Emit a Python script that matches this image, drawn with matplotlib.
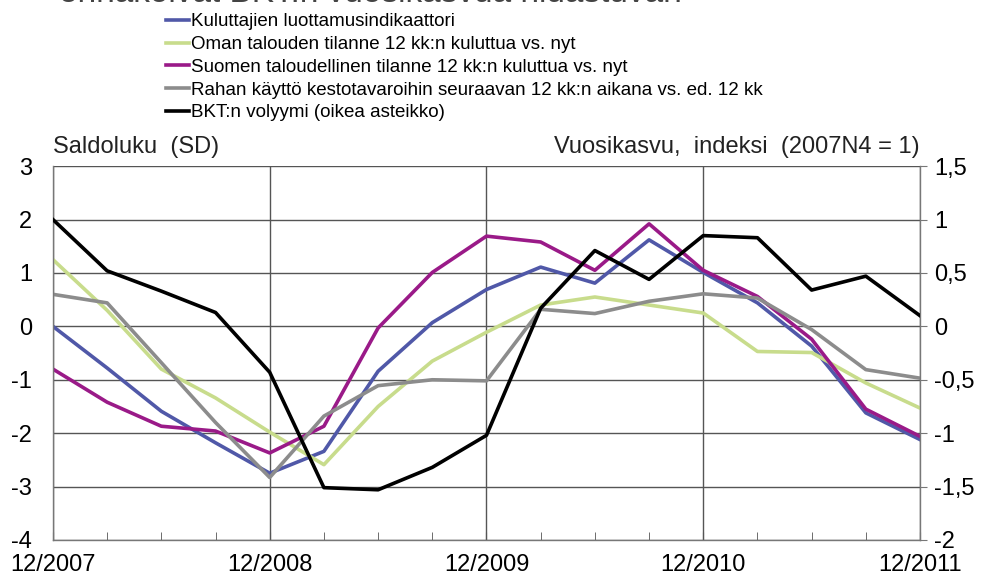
import numpy as np
from matplotlib import pyplot as plt
from matplotlib.ticker import FixedLocator, MultipleLocator

plt.rcParams['font.family'] = ['Liberation Sans', 'DejaVu Sans']

# quarterly observations 12/2007 ... 12/2011
quarters = np.arange(17)
year_labels = ['12/2007', '12/2008', '12/2009', '12/2010', '12/2011']

luottamus = [0.0, -0.78, -1.59, -2.18, -2.75, -2.34, -0.84, 0.07, 0.69,
             1.11, 0.81, 1.62, 1.01, 0.44, -0.37, -1.62, -2.12]
oma_talous = [1.25, 0.3, -0.8, -1.34, -1.98, -2.59, -1.5, -0.65, -0.11,
              0.40, 0.55, 0.40, 0.25, -0.47, -0.49, -1.06, -1.53]
suomen_talous = [-0.8, -1.42, -1.87, -1.96, -2.37, -1.87, -0.03, 1.01, 1.69,
                 1.58, 1.05, 1.92, 1.05, 0.56, -0.24, -1.55, -2.06]
kestotavarat = [0.6, 0.44, -0.68, -1.8, -2.83, -1.68, -1.11, -1.0, -1.02,
                0.32, 0.24, 0.47, 0.61, 0.53, -0.06, -0.81, -0.97]
bkt = [1.0, 0.52, 0.33, 0.13, -0.43, -1.51, -1.53, -1.32, -1.02,
       0.17, 0.71, 0.44, 0.85, 0.83, 0.34, 0.47, 0.10]

labels = ['Kuluttajien luottamusindikaattori',
          'Oman talouden tilanne 12 kk:n kuluttua vs. nyt',
          'Suomen taloudellinen tilanne 12 kk:n kuluttua vs. nyt',
          'Rahan käyttö kestotavaroihin seuraavan 12 kk:n aikana vs. ed. 12 kk',
          'BKT:n volyymi (oikea asteikko)']
colors = ['#5058a8', '#c8dc8c', '#9a1a88', '#8c8c8c', '#000000']

left_ticks = [3, 2, 1, 0, -1, -2, -3, -4]
right_ticks = [1.5, 1, 0.5, 0, -0.5, -1, -1.5, -2]
right_labels = ['1,5', '1', '0,5', '0', '-0,5', '-1', '-1,5', '-2']

fig = plt.figure(figsize=(9.88, 5.79), dpi=100)
ax = fig.add_axes([0.0536, 0.0674, 0.8776, 0.6456])
lw = 2.6
handles = []
for series, lab, col in zip([luottamus, oma_talous, suomen_talous, kestotavarat],
                            labels[:4], colors[:4]):
    h, = ax.plot(quarters, series, color=col, lw=lw, label=lab)
    handles.append(h)

ax.set_xlim(0, 16)
ax.set_ylim(-4, 3)
ax.set_yticks(left_ticks)
ax.set_yticklabels([str(t) for t in left_ticks])
ax.set_xticks([0, 4, 8, 12, 16])
ax.set_xticklabels(year_labels)
ax.xaxis.set_minor_locator(MultipleLocator(1))
ax.grid(True, which='major', color='#555555', lw=1.0)
ax.tick_params(axis='x', which='both', direction='in', length=6, color='#555555',
               labelsize=17, pad=10)
ax.tick_params(axis='y', length=0, labelsize=17, pad=15)
for s in ax.spines.values():
    s.set_color('#777777')
    s.set_linewidth(1.0)
ax.spines['top'].set_visible(False)

ax2 = ax.twinx()
h, = ax2.plot(quarters, bkt, color=colors[4], lw=lw, label=labels[4])
handles.append(h)
ax2.set_ylim(-2, 1.5)
ax2.yaxis.set_major_locator(FixedLocator(right_ticks))
ax2.set_yticklabels(right_labels)
ax2.tick_params(axis='y', length=5, color='#777777', labelsize=17, pad=5)
for s in ax2.spines.values():
    s.set_visible(False)

ax.text(0.0, 1.035, 'Saldoluku  (SD)', transform=ax.transAxes, fontsize=17,
        ha='left', va='baseline', color='#222222')
ax.text(1.0, 1.035, 'Vuosikasvu,  indeksi  (2007N4 = 1)', transform=ax.transAxes,
        fontsize=17, ha='right', va='baseline', color='#222222')

# title row, mostly cut off at the top edge of the picture
fig.text(0.06, 0.997, 'ennakoivat BKT:n vuosikasvua hidastuvan', fontsize=24,
         color='#444444', ha='left', va='baseline')

fig.legend(handles=handles, labels=labels, loc='upper left',
           bbox_to_anchor=(0.16, 0.99), frameon=False, fontsize=13.5,
           handlelength=1.25, handletextpad=0.12, labelspacing=0.3,
           borderaxespad=0)

fig.savefig('out.png', dpi=100)
